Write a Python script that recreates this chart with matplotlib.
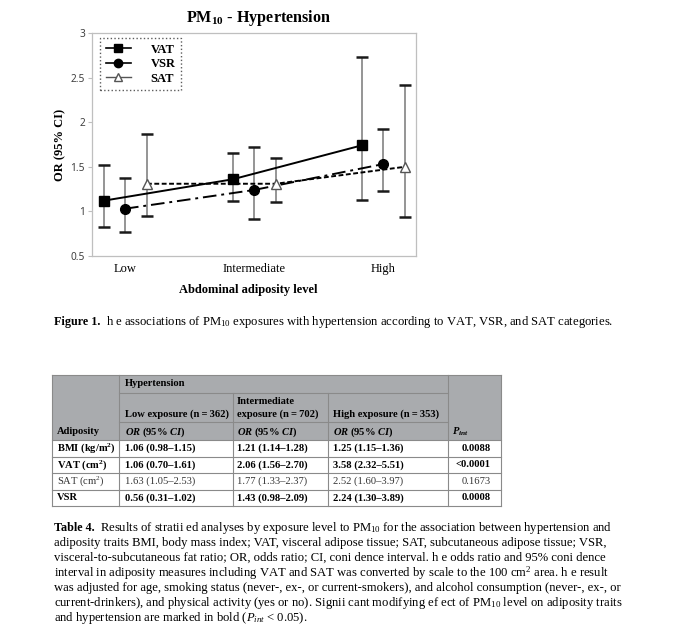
import matplotlib
matplotlib.use('Agg')
import matplotlib.pyplot as plt
from matplotlib.lines import Line2D
from matplotlib.patches import Rectangle
from matplotlib.ticker import FuncFormatter

# chart data
categories = ['Low', 'Intermediate', 'High']
vat_or = [1.12, 1.36, 1.74]
vat_lo = [0.83, 1.12, 1.13]
vat_hi = [1.52, 1.65, 2.73]
vsr_or = [1.03, 1.24, 1.53]
vsr_lo = [0.77, 0.92, 1.23]
vsr_hi = [1.37, 1.72, 1.92]
sat_or = [1.31, 1.31, 1.50]
sat_lo = [0.95, 1.11, 0.94]
sat_hi = [1.87, 1.60, 2.42]

# table data
row_labels = ['BMI (kg/m$^{\\mathbf{2}}$)', 'VAT (cm$^{\\mathbf{2}}$)', 'SAT (cm$^{2}$)', 'VSR']
low_exp = ['1.06 (0.98\u20131.15)', '1.06 (0.70\u20131.61)', '1.63 (1.05\u20132.53)', '0.56 (0.31\u20131.02)']
int_exp = ['1.21 (1.14\u20131.28)', '2.06 (1.56\u20132.70)', '1.77 (1.33\u20132.37)', '1.43 (0.98\u20132.09)']
high_exp = ['1.25 (1.15\u20131.36)', '3.58 (2.32\u20135.51)', '2.52 (1.60\u20133.97)', '2.24 (1.30\u20133.89)']
p_int = ['0.0088', '<0.0001', '0.1673', '0.0008']
row_bold = [True, True, False, True]

fig_caption = 'h e associations of PM$_{10}$ exposures with hypertension according to VAT, VSR, and SAT categories.'
table_caption = [
    'Results of stratii ed analyses by exposure level to PM$_{10}$ for the association between hypertension and',
    'adiposity traits BMI, body mass index; VAT, visceral adipose tissue; SAT, subcutaneous adipose tissue; VSR,',
    'visceral-to-subcutaneous fat ratio; OR, odds ratio; CI, coni dence interval. h e odds ratio and 95% coni dence',
    'interval in adiposity measures including VAT and SAT was converted by scale to the 100 cm$^2$ area. h e result',
    'was adjusted for age, smoking status (never-, ex-, or current-smokers), and alcohol consumption (never-, ex-, or',
    'current-drinkers), and physical activity (yes or no). Signii cant modifying ef ect of PM$_{10}$ level on adiposity traits',
    'and hypertension are marked in bold ($\\mathit{P}_{\\mathit{int}}$ < 0.05).',
]

SERIF = 'Liberation Serif'
plt.rcParams['font.family'] = SERIF
plt.rcParams['mathtext.fontset'] = 'custom'
plt.rcParams['mathtext.rm'] = SERIF
plt.rcParams['mathtext.it'] = SERIF + ':italic'
plt.rcParams['mathtext.bf'] = SERIF + ':bold'
plt.rcParams['mathtext.bfit'] = SERIF + ':italic:bold'

W, H = 680, 641
fig = plt.figure(figsize=(W / 100, H / 100), dpi=100)

# background axes in pixel coordinates for captions and table
bg = fig.add_axes([0, 0, 1, 1], zorder=-1)
bg.set_xlim(0, W)
bg.set_ylim(H, 0)
bg.axis('off')

# ---- chart ----
L, R, T, B = 92, 416, 33, 256
ax = fig.add_axes([L / W, 1 - B / H, (R - L) / W, (B - T) / H])
x = list(range(len(categories)))
offs = {'VAT': -0.165, 'VSR': 0.0, 'SAT': 0.17}
series = [
    ('VAT', vat_or, vat_lo, vat_hi, dict(ls='-', marker='s', mfc='black', mec='black', ms=7)),
    ('VSR', vsr_or, vsr_lo, vsr_hi, dict(ls=(0, (7, 2.5, 1.5, 2.5)), marker='o', mfc='black', mec='black', ms=7)),
    ('SAT', sat_or, sat_lo, sat_hi, dict(ls=(0, (2.5, 1.3)), marker='^', mfc='white', mec='#555555', ms=7)),
]
for name, orv, lo, hi, st in series:
    xs = [i + offs[name] for i in x]
    ax.vlines(xs, lo, hi, color='#8c8c8c', lw=1.3, zorder=1)
    ax.plot(xs, lo, ls='none', marker='_', ms=8, mew=1.8, color='#1a1a1a', zorder=2)
    ax.plot(xs, hi, ls='none', marker='_', ms=8, mew=1.8, color='#1a1a1a', zorder=2)
    ax.plot(xs, orv, color='black', lw=1.4, zorder=3, **st)

ax.set_xlim(-0.256, 2.256)
ax.set_ylim(0.5, 3)
ax.set_yticks([0.5, 1, 1.5, 2, 2.5, 3])
ax.yaxis.set_major_formatter(FuncFormatter(lambda v, p: '%g' % v))
ax.set_xticks(x)
ax.set_xticklabels(categories, fontsize=9)
for lab in ax.get_yticklabels():
    lab.set_family('Noto Sans')
    lab.set_fontsize(7.3)
    lab.set_color('#404040')
ax.tick_params(axis='x', length=0, pad=5)
ax.tick_params(axis='y', length=3, color='#bfbfbf', pad=2)
for sp in ax.spines.values():
    sp.set_color('#bfbfbf')
    sp.set_linewidth(0.9)

ax.set_title('PM$_{\\mathbf{10}}$ - Hypertension', fontsize=11.6, fontweight='bold', pad=8, x=0.515)
ax.set_xlabel('Abdominal adiposity level', fontsize=9, fontweight='bold', labelpad=6)
ax.xaxis.set_label_coords(0.482, -0.125)
ax.set_ylabel('OR (95% CI)', fontsize=9, fontweight='bold')
ax.yaxis.set_label_coords(-0.08, 0.5)

handles = [
    Line2D([], [], color='black', lw=1.2, marker='s', ms=6, mfc='black', mec='black'),
    Line2D([], [], color='black', lw=1.2, marker='o', ms=6, mfc='black', mec='black'),
    Line2D([], [], color='#555555', lw=1.0, marker='^', ms=6, mfc='white', mec='#555555'),
]
leg = ax.legend(handles, ['VAT', 'VSR', 'SAT'], loc='upper left', bbox_to_anchor=(0.025, 0.978),
                borderaxespad=0, fancybox=False, handlelength=2.0, handletextpad=1.6,
                labelspacing=0.2, borderpad=0.45, prop={'family': SERIF, 'weight': 'bold', 'size': 9})
fr = leg.get_frame()
fr.set_edgecolor('#333333')
fr.set_linestyle(':')
fr.set_linewidth(1.0)

# ---- figure caption ----
cap_fs = 9.1
bg.text(54, 322, 'Figure 1.', fontsize=8.7, fontweight='bold', va='center')
bg.text(106, 322, fig_caption, fontsize=cap_fs, va='center')

# ---- table ----
cols = [52, 119, 233, 328, 448, 501]
top, h1, h2, h3 = 375, 393, 422, 440
rows = [440, 456.5, 473, 489.5, 506]
grid = '#8a8a8a'
bg.add_patch(Rectangle((cols[0], top), cols[-1] - cols[0], h3 - top, facecolor='#a9abae', edgecolor='none'))
bg.plot([cols[0], cols[-1]], [top, top], color=grid, lw=0.8)
bg.plot([cols[1], cols[4]], [h1, h1], color=grid, lw=0.8)
bg.plot([cols[1], cols[4]], [h2, h2], color=grid, lw=0.8)
for yy in rows:
    bg.plot([cols[0], cols[-1]], [yy, yy], color=grid, lw=0.8)
for cx in [cols[0], cols[1], cols[4], cols[5]]:
    bg.plot([cx, cx], [top, rows[-1]], color=grid, lw=0.8)
for cx in [cols[2], cols[3]]:
    bg.plot([cx, cx], [h1, rows[-1]], color=grid, lw=0.8)

tfs = 7.6
bg.text(125, 384, 'Hypertension', fontsize=tfs, fontweight='bold', va='center')
bg.text(125, 414, 'Low exposure (n\u2009=\u2009362)', fontsize=tfs, fontweight='bold', va='center')
bg.text(237, 401, 'Intermediate', fontsize=tfs, fontweight='bold', va='center')
bg.text(237, 414, 'exposure (n\u2009=\u2009702)', fontsize=tfs, fontweight='bold', va='center')
bg.text(333, 414, 'High exposure (n\u2009=\u2009353)', fontsize=tfs, fontweight='bold', va='center')
bg.text(57, 432, 'Adiposity', fontsize=tfs, fontweight='bold', va='center')
or_lab = '$\\mathbfit{OR}\\mathbf{\\ (95\\%\\ }\\mathbfit{CI}\\mathbf{)}$'
for cx in [125, 237, 333]:
    bg.text(cx, 432, or_lab, fontsize=tfs, va='center')
bg.text(452, 432, '$\\mathbfit{P}_{\\mathbfit{int}}$', fontsize=tfs, va='center')

for i in range(len(row_labels)):
    yc = (rows[i] + rows[i + 1]) / 2
    wt = 'bold' if row_bold[i] else 'normal'
    col = 'black' if row_bold[i] else '#333333'
    bg.text(57, yc, row_labels[i], fontsize=tfs, fontweight=wt, color=col, va='center')
    bg.text(125, yc, low_exp[i], fontsize=tfs, fontweight=wt, color=col, va='center')
    bg.text(237, yc, int_exp[i], fontsize=tfs, fontweight=wt, color=col, va='center')
    bg.text(333, yc, high_exp[i], fontsize=tfs, fontweight=wt, color=col, va='center')
    bg.text(491, yc, p_int[i], fontsize=tfs, fontweight=wt, color=col, va='center', ha='right')

# ---- table caption ----
bg.text(54, 528, 'Table 4.', fontsize=8.7, fontweight='bold', va='center')
for k, line in enumerate(table_caption):
    xs0 = 100 if k == 0 else 54
    bg.text(xs0, 528 + k * 15, line, fontsize=cap_fs, va='center')

fig.savefig('out.png', dpi=100)
